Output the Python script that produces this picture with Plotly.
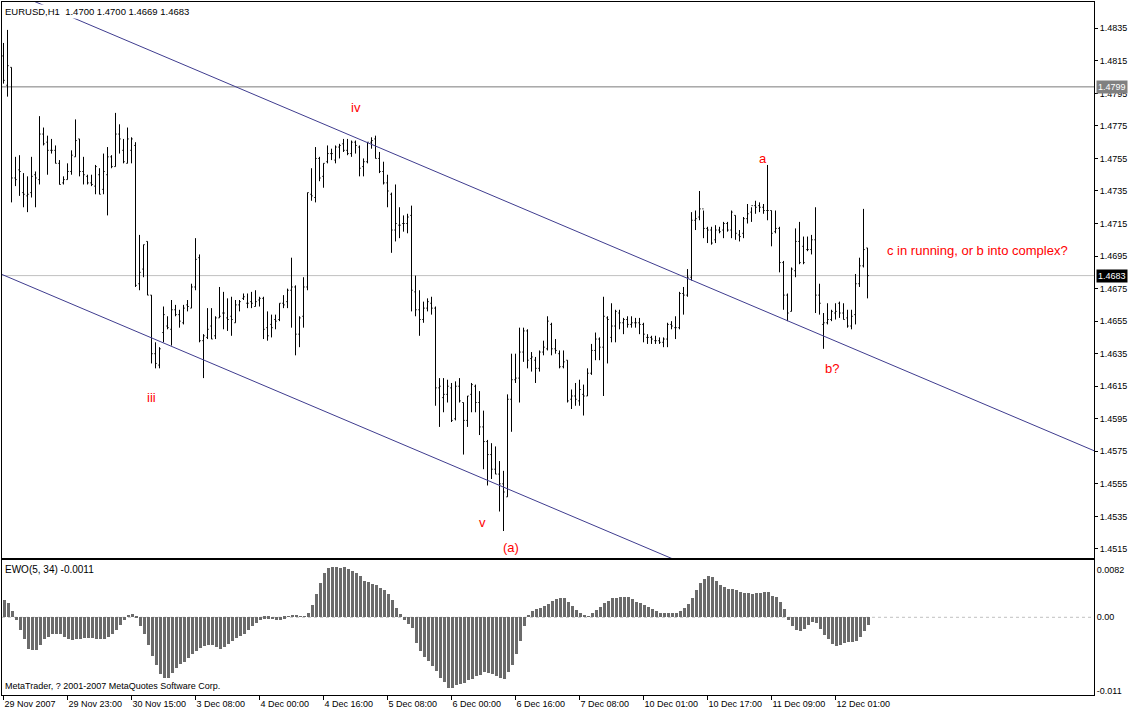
import plotly.graph_objects as go

# ---------------- data ----------------
bar_index = list(range(217))

opens = [1.4818, 1.4800, 1.4811, 1.4743, 1.4748, 1.4734, 1.4732, 1.4734, 1.4745, 1.4742,
         1.4770, 1.4765, 1.4760, 1.4760, 1.4752, 1.4740, 1.4742, 1.4747, 1.4756, 1.4767,
         1.4747, 1.4744, 1.4740, 1.4738, 1.4745, 1.4736, 1.4745, 1.4756, 1.4750, 1.4770,
         1.4760, 1.4752, 1.4760, 1.4763, 1.4678, 1.4687, 1.4704, 1.4671, 1.4635, 1.4628,
         1.4648, 1.4652, 1.4650, 1.4662, 1.4659, 1.4654, 1.4665, 1.4663, 1.4676, 1.4694,
         1.4643, 1.4645, 1.4652, 1.4646, 1.4657, 1.4660, 1.4657, 1.4658, 1.4654, 1.4665,
         1.4669, 1.4666, 1.4667, 1.4664, 1.4668, 1.4669, 1.4651, 1.4653, 1.4656, 1.4656,
         1.4666, 1.4667, 1.4674, 1.4676, 1.4647, 1.4658, 1.4676, 1.4733, 1.4731, 1.4755,
         1.4744, 1.4753, 1.4758, 1.4754, 1.4762, 1.4764, 1.4760, 1.4758, 1.4765, 1.4762,
         1.4750, 1.4753, 1.4765, 1.4767, 1.4755, 1.4747, 1.4740, 1.4733, 1.4711, 1.4714,
         1.4715, 1.4715, 1.4720, 1.4673, 1.4662, 1.4656, 1.4663, 1.4666, 1.4663, 1.4614,
         1.4608, 1.4610, 1.4614, 1.4595, 1.4615, 1.4605, 1.4594, 1.4610, 1.4615, 1.4605,
         1.4590, 1.4581, 1.4573, 1.4564, 1.4561, 1.4555, 1.4547, 1.4607, 1.4619, 1.4620,
         1.4636, 1.4649, 1.4632, 1.4631, 1.4626, 1.4636, 1.4638, 1.4653, 1.4638, 1.4635,
         1.4627, 1.4631, 1.4607, 1.4609, 1.4606, 1.4610, 1.4609, 1.4623, 1.4637, 1.4644,
         1.4639, 1.4657, 1.4645, 1.4652, 1.4660, 1.4654, 1.4656, 1.4653, 1.4654, 1.4654,
         1.4653, 1.4645, 1.4645, 1.4643, 1.4643, 1.4642, 1.4644, 1.4653, 1.4651, 1.4651,
         1.4672, 1.4671, 1.4682, 1.4717, 1.4719, 1.4724, 1.4712, 1.4711, 1.4705, 1.4711,
         1.4711, 1.4715, 1.4711, 1.4720, 1.4708, 1.4709, 1.4718, 1.4722, 1.4726, 1.4726,
         1.4725, 1.4723, 1.4723, 1.4710, 1.4712, 1.4691, 1.4671, 1.4661, 1.4686, 1.4704,
         1.4701, 1.4699, 1.4699, 1.4705, 1.4671, 1.4653, 1.4654, 1.4656, 1.4660, 1.4666,
         1.4660, 1.4657, 1.4652, 1.4659, 1.4678, 1.4689, 1.4700]

highs = [1.4826, 1.4834, 1.4811, 1.4756, 1.4757, 1.4746, 1.4744, 1.4756, 1.4747, 1.4781,
         1.4774, 1.4769, 1.4767, 1.4763, 1.4754, 1.4744, 1.4752, 1.4760, 1.4779, 1.4767,
         1.4756, 1.4745, 1.4745, 1.4751, 1.4749, 1.4758, 1.4762, 1.4757, 1.4783, 1.4776,
         1.4767, 1.4774, 1.4768, 1.4765, 1.4708, 1.4702, 1.4704, 1.4671, 1.4642, 1.4639,
         1.4664, 1.4658, 1.4668, 1.4665, 1.4662, 1.4665, 1.4668, 1.4678, 1.4706, 1.4696,
         1.4647, 1.4663, 1.4663, 1.4658, 1.4676, 1.4673, 1.4669, 1.4670, 1.4668, 1.4668,
         1.4672, 1.4672, 1.4673, 1.4674, 1.4670, 1.4670, 1.4661, 1.4659, 1.4659, 1.4666,
         1.4671, 1.4675, 1.4694, 1.4677, 1.4658, 1.4682, 1.4734, 1.4749, 1.4762, 1.4756,
         1.4752, 1.4763, 1.4761, 1.4763, 1.4764, 1.4767, 1.4767, 1.4766, 1.4766, 1.4763,
         1.4755, 1.4765, 1.4768, 1.4769, 1.4759, 1.4753, 1.4745, 1.4734, 1.4739, 1.4725,
         1.4720, 1.4721, 1.4726, 1.4683, 1.4674, 1.4667, 1.4669, 1.4670, 1.4664, 1.4620,
         1.4620, 1.4619, 1.4617, 1.4618, 1.4620, 1.4605, 1.4609, 1.4617, 1.4616, 1.4612,
         1.4600, 1.4582, 1.4580, 1.4578, 1.4569, 1.4563, 1.4610, 1.4635, 1.4635, 1.4651,
         1.4651, 1.4650, 1.4636, 1.4633, 1.4637, 1.4643, 1.4658, 1.4654, 1.4644, 1.4637,
         1.4637, 1.4631, 1.4613, 1.4617, 1.4619, 1.4616, 1.4626, 1.4641, 1.4648, 1.4645,
         1.4670, 1.4658, 1.4666, 1.4662, 1.4662, 1.4657, 1.4658, 1.4658, 1.4657, 1.4657,
         1.4654, 1.4647, 1.4646, 1.4646, 1.4645, 1.4645, 1.4654, 1.4655, 1.4658, 1.4673,
         1.4676, 1.4687, 1.4722, 1.4723, 1.4735, 1.4723, 1.4713, 1.4713, 1.4714, 1.4713,
         1.4716, 1.4716, 1.4723, 1.4720, 1.4711, 1.4719, 1.4727, 1.4725, 1.4729, 1.4728,
         1.4727, 1.4751, 1.4723, 1.4723, 1.4713, 1.4692, 1.4672, 1.4688, 1.4712, 1.4716,
         1.4707, 1.4707, 1.4708, 1.4725, 1.4678, 1.4660, 1.4666, 1.4662, 1.4666, 1.4667,
         1.4666, 1.4662, 1.4662, 1.4684, 1.4694, 1.4724, 1.4700]

lows = [1.4801, 1.4793, 1.4728, 1.4738, 1.4732, 1.4725, 1.4722, 1.4731, 1.4725, 1.4739,
        1.4763, 1.4745, 1.4758, 1.4752, 1.4739, 1.4739, 1.4742, 1.4745, 1.4756, 1.4744,
        1.4739, 1.4739, 1.4738, 1.4733, 1.4733, 1.4733, 1.4720, 1.4749, 1.4750, 1.4758,
        1.4752, 1.4752, 1.4752, 1.4676, 1.4674, 1.4682, 1.4671, 1.4629, 1.4626, 1.4626,
        1.4642, 1.4650, 1.4640, 1.4658, 1.4651, 1.4653, 1.4661, 1.4663, 1.4674, 1.4642,
        1.4620, 1.4644, 1.4644, 1.4644, 1.4657, 1.4650, 1.4649, 1.4646, 1.4654, 1.4661,
        1.4668, 1.4663, 1.4663, 1.4664, 1.4664, 1.4644, 1.4643, 1.4645, 1.4650, 1.4655,
        1.4663, 1.4663, 1.4651, 1.4634, 1.4639, 1.4651, 1.4674, 1.4729, 1.4728, 1.4741,
        1.4737, 1.4752, 1.4754, 1.4752, 1.4755, 1.4759, 1.4757, 1.4756, 1.4758, 1.4744,
        1.4744, 1.4752, 1.4761, 1.4755, 1.4746, 1.4739, 1.4725, 1.4697, 1.4704, 1.4706,
        1.4710, 1.4709, 1.4661, 1.4658, 1.4646, 1.4654, 1.4661, 1.4659, 1.4603, 1.4590,
        1.4599, 1.4605, 1.4593, 1.4594, 1.4605, 1.4573, 1.4590, 1.4599, 1.4599, 1.4585,
        1.4564, 1.4554, 1.4558, 1.4561, 1.4538, 1.4526, 1.4547, 1.4587, 1.4617, 1.4605,
        1.4630, 1.4626, 1.4624, 1.4617, 1.4624, 1.4634, 1.4637, 1.4634, 1.4635, 1.4626,
        1.4626, 1.4605, 1.4601, 1.4603, 1.4603, 1.4597, 1.4609, 1.4622, 1.4631, 1.4631,
        1.4609, 1.4629, 1.4642, 1.4642, 1.4650, 1.4647, 1.4651, 1.4651, 1.4651, 1.4647,
        1.4642, 1.4641, 1.4641, 1.4641, 1.4641, 1.4639, 1.4639, 1.4650, 1.4644, 1.4650,
        1.4659, 1.4670, 1.4680, 1.4711, 1.4717, 1.4706, 1.4703, 1.4702, 1.4703, 1.4709,
        1.4706, 1.4710, 1.4706, 1.4705, 1.4704, 1.4706, 1.4715, 1.4716, 1.4721, 1.4722,
        1.4721, 1.4717, 1.4701, 1.4709, 1.4685, 1.4662, 1.4655, 1.4661, 1.4682, 1.4690,
        1.4690, 1.4698, 1.4696, 1.4660, 1.4659, 1.4638, 1.4653, 1.4655, 1.4656, 1.4657,
        1.4656, 1.4651, 1.4650, 1.4653, 1.4676, 1.4688, 1.4669]

closes = [1.4803, 1.4812, 1.4743, 1.4742, 1.4747, 1.4733, 1.4733, 1.4744, 1.4743, 1.4770,
          1.4764, 1.4760, 1.4760, 1.4752, 1.4739, 1.4742, 1.4747, 1.4757, 1.4766, 1.4747,
          1.4745, 1.4740, 1.4739, 1.4750, 1.4733, 1.4747, 1.4756, 1.4750, 1.4770, 1.4767,
          1.4753, 1.4767, 1.4767, 1.4677, 1.4685, 1.4702, 1.4671, 1.4635, 1.4629, 1.4638,
          1.4659, 1.4651, 1.4662, 1.4659, 1.4655, 1.4663, 1.4664, 1.4676, 1.4693, 1.4643,
          1.4646, 1.4650, 1.4644, 1.4657, 1.4658, 1.4660, 1.4656, 1.4656, 1.4665, 1.4667,
          1.4670, 1.4666, 1.4666, 1.4667, 1.4669, 1.4650, 1.4646, 1.4651, 1.4655, 1.4666,
          1.4665, 1.4674, 1.4676, 1.4647, 1.4657, 1.4676, 1.4734, 1.4732, 1.4755, 1.4743,
          1.4752, 1.4758, 1.4758, 1.4762, 1.4763, 1.4760, 1.4758, 1.4765, 1.4763, 1.4749,
          1.4753, 1.4765, 1.4766, 1.4755, 1.4747, 1.4740, 1.4735, 1.4711, 1.4715, 1.4714,
          1.4715, 1.4719, 1.4674, 1.4662, 1.4656, 1.4663, 1.4667, 1.4663, 1.4614, 1.4615,
          1.4610, 1.4615, 1.4594, 1.4615, 1.4606, 1.4594, 1.4609, 1.4616, 1.4605, 1.4590,
          1.4581, 1.4573, 1.4564, 1.4561, 1.4555, 1.4550, 1.4607, 1.4619, 1.4620, 1.4636,
          1.4649, 1.4631, 1.4633, 1.4626, 1.4636, 1.4639, 1.4655, 1.4638, 1.4637, 1.4627,
          1.4630, 1.4606, 1.4609, 1.4607, 1.4613, 1.4609, 1.4623, 1.4637, 1.4644, 1.4639,
          1.4658, 1.4656, 1.4652, 1.4661, 1.4654, 1.4656, 1.4653, 1.4654, 1.4654, 1.4653,
          1.4647, 1.4645, 1.4644, 1.4643, 1.4642, 1.4644, 1.4653, 1.4652, 1.4651, 1.4672,
          1.4671, 1.4682, 1.4717, 1.4718, 1.4724, 1.4712, 1.4711, 1.4703, 1.4711, 1.4710,
          1.4715, 1.4711, 1.4722, 1.4709, 1.4707, 1.4718, 1.4721, 1.4726, 1.4725, 1.4725,
          1.4723, 1.4723, 1.4709, 1.4712, 1.4691, 1.4671, 1.4660, 1.4687, 1.4704, 1.4691,
          1.4691, 1.4699, 1.4705, 1.4671, 1.4666, 1.4654, 1.4656, 1.4661, 1.4661, 1.4660,
          1.4656, 1.4652, 1.4658, 1.4678, 1.4689, 1.4699, 1.4683]

ewo = [0.0027, 0.0023, 0.0010, -0.0006, -0.0021, -0.0037, -0.0053, -0.0055, -0.0055, -0.0047,
       -0.0037, -0.0033, -0.0029, -0.0028, -0.0029, -0.0034, -0.0037, -0.0039, -0.0037, -0.0036,
       -0.0035, -0.0035, -0.0035, -0.0036, -0.0037, -0.0036, -0.0034, -0.0028, -0.0021, -0.0014,
       -0.0006, 0.0003, 0.0005, -0.0001, -0.0015, -0.0028, -0.0046, -0.0064, -0.0079, -0.0094,
       -0.0101, -0.0101, -0.0093, -0.0084, -0.0078, -0.0074, -0.0068, -0.0062, -0.0056, -0.0051,
       -0.0048, -0.0047, -0.0047, -0.0050, -0.0054, -0.0050, -0.0045, -0.0040, -0.0035, -0.0031,
       -0.0028, -0.0021, -0.0015, -0.0010, -0.0006, -0.0003, -0.0003, -0.0004, -0.0006, -0.0005,
       -0.0003, 0.0001, 0.0003, 0.0002, 0.0001, 0.0001, 0.0007, 0.0019, 0.0037, 0.0056,
       0.0072, 0.0080, 0.0082, 0.0082, 0.0081, 0.0082, 0.0079, 0.0075, 0.0073, 0.0067,
       0.0060, 0.0057, 0.0055, 0.0052, 0.0048, 0.0045, 0.0038, 0.0027, 0.0015, 0.0004,
       -0.0005, -0.0012, -0.0018, -0.0044, -0.0056, -0.0066, -0.0073, -0.0081, -0.0090, -0.0101,
       -0.0107, -0.0117, -0.0117, -0.0113, -0.0111, -0.0109, -0.0105, -0.0102, -0.0098, -0.0096,
       -0.0091, -0.0093, -0.0094, -0.0098, -0.0101, -0.0103, -0.0092, -0.0080, -0.0061, -0.0040,
       -0.0015, 0.0002, 0.0009, 0.0013, 0.0015, 0.0018, 0.0021, 0.0026, 0.0030, 0.0031,
       0.0031, 0.0025, 0.0018, 0.0011, 0.0006, 0.0002, 0.0001, 0.0006, 0.0011, 0.0016,
       0.0023, 0.0026, 0.0031, 0.0031, 0.0033, 0.0033, 0.0033, 0.0029, 0.0025, 0.0022,
       0.0019, 0.0016, 0.0013, 0.0009, 0.0007, 0.0006, 0.0006, 0.0006, 0.0006, 0.0009,
       0.0014, 0.0021, 0.0031, 0.0044, 0.0056, 0.0062, 0.0067, 0.0066, 0.0059, 0.0052,
       0.0049, 0.0046, 0.0046, 0.0044, 0.0041, 0.0039, 0.0039, 0.0037, 0.0039, 0.0039,
       0.0041, 0.0041, 0.0035, 0.0033, 0.0025, 0.0013, -0.0005, -0.0015, -0.0022, -0.0023,
       -0.0020, -0.0013, -0.0008, -0.0010, -0.0020, -0.0030, -0.0036, -0.0045, -0.0049, -0.0047,
       -0.0044, -0.0042, -0.0041, -0.0040, -0.0033, -0.0023, -0.0013]

time_tick_bars = [0, 16, 32, 48, 64, 80, 96, 112, 128, 144, 160, 176, 192, 208]
time_tick_labels = ["29 Nov 2007", "29 Nov 23:00", "30 Nov 15:00", "3 Dec 08:00", "4 Dec 00:00",
                    "4 Dec 16:00", "5 Dec 08:00", "6 Dec 00:00", "6 Dec 16:00", "7 Dec 08:00",
                    "10 Dec 01:00", "10 Dec 17:00", "11 Dec 09:00", "12 Dec 01:00"]

price_tick_values = [1.4515, 1.4535, 1.4555, 1.4575, 1.4595, 1.4615, 1.4635, 1.4655, 1.4675,
                     1.4695, 1.4715, 1.4735, 1.4755, 1.4775, 1.4795, 1.4815, 1.4835]
price_tick_labels = ["1.4515", "1.4535", "1.4555", "1.4575", "1.4595", "1.4615", "1.4635", "1.4655",
                     "1.4675", "1.4695", "1.4715", "1.4735", "1.4755", "1.4775", "1.4795", "1.4815",
                     "1.4835"]

ewo_tick_values = [0.0078, 0.0, -0.0122]
ewo_tick_labels = ["0.0082", "0.00", "-0.011"]

level_price = 1.4799
bid_price = 1.4683

upper_channel_bars = [16, 216]
upper_channel_prices = [1.48429, 1.46344]
lower_channel_bars = [0, 200]
lower_channel_prices = [1.46833, 1.44748]

wave_texts = ["iii", "iv", "v", "(a)", "a", "b?", "c in running, or b into complex?"]
wave_bars = [37, 88, 119.75, 126.75, 189.75, 207, 220.3]
wave_prices = [1.46078, 1.47866, 1.45310, 1.45156, 1.47547, 1.46256, 1.46987]
wave_anchor = ["center", "center", "center", "center", "center", "center", "left"]

header_text = "EURUSD,H1\u00a0\u00a01.4700 1.4700 1.4669 1.4683"
ewo_text = "EWO(5, 34) -0.0011"
copyright_text = "MetaTrader, ? 2001-2007 MetaQuotes Software Corp."

# ---------------- figure ----------------
X_RANGE = [-0.375, 272.625]
FONT = "Liberation Sans, Arial, sans-serif"


def extend(bars, prices):
    slope = (prices[1] - prices[0]) / (bars[1] - bars[0])
    xs = [X_RANGE[0] - 1, X_RANGE[1] + 1]
    return xs, [prices[0] + slope * (x - bars[0]) for x in xs]


fig = go.Figure()

fig.add_trace(go.Ohlc(
    x=bar_index, open=opens, high=highs, low=lows, close=closes,
    increasing=dict(line=dict(color="black", width=1)),
    decreasing=dict(line=dict(color="black", width=1)),
    tickwidth=0.3, hoverinfo="skip", xaxis="x", yaxis="y"))

for bars, prices in ((upper_channel_bars, upper_channel_prices),
                     (lower_channel_bars, lower_channel_prices)):
    xs, ys = extend(bars, prices)
    fig.add_trace(go.Scatter(x=xs, y=ys, mode="lines",
                             line=dict(color="#3f3c8f", width=1),
                             hoverinfo="skip", xaxis="x", yaxis="y"))

fig.add_trace(go.Bar(x=bar_index, y=ewo, width=0.75, offset=-0.125,
                     marker=dict(color="#6b6b6b", line=dict(width=0)),
                     hoverinfo="skip", xaxis="x2", yaxis="y2"))

axis_common = dict(showline=True, linecolor="black", linewidth=1, mirror=True,
                   showgrid=False, zeroline=False, fixedrange=True)

fig.update_layout(
    width=1132, height=712,
    margin=dict(l=2, r=38, t=2, b=17),
    paper_bgcolor="white", plot_bgcolor="white",
    showlegend=False, bargap=0,
    font=dict(family=FONT, size=9, color="black"),
    xaxis=dict(domain=[0, 1], anchor="y", range=X_RANGE, showticklabels=False, ticks="",
               rangeslider=dict(visible=False), **axis_common),
    yaxis=dict(domain=[0.1977, 1], anchor="x", side="right", range=[1.450943, 1.485116],
               tickmode="array", tickvals=price_tick_values, ticktext=price_tick_labels,
               ticks="outside", ticklen=3, tickcolor="black", tickwidth=1,
               tickfont=dict(family=FONT, size=9, color="black"), **axis_common),
    xaxis2=dict(domain=[0, 1], anchor="y2", matches="x", range=X_RANGE,
                tickmode="array", tickvals=time_tick_bars, ticktext=time_tick_labels,
                ticks="outside", ticklen=4, tickcolor="black", tickwidth=1,
                ticklabelposition="outside right",
                tickfont=dict(family=FONT, size=9, color="black"), **axis_common),
    yaxis2=dict(domain=[0, 0.1941], anchor="x2", side="right", range=[-0.012844, 0.009389],
                tickmode="array", tickvals=ewo_tick_values, ticktext=ewo_tick_labels,
                ticks="", tickfont=dict(family=FONT, size=9, color="black"), **axis_common),
)

fig.add_shape(type="line", xref="x domain", x0=0, x1=1, yref="y", y0=level_price, y1=level_price,
              line=dict(color="#7a7a7a", width=1), layer="below")
fig.add_shape(type="line", xref="x domain", x0=0, x1=1, yref="y", y0=bid_price, y1=bid_price,
              line=dict(color="#c0c0c0", width=1), layer="below")
fig.add_shape(type="line", xref="x2 domain", x0=0, x1=1, yref="y2", y0=0, y1=0,
              line=dict(color="#c0c0c0", width=1, dash="3px,3px"), layer="below")

for txt, b, p, anc in zip(wave_texts, wave_bars, wave_prices, wave_anchor):
    fig.add_annotation(x=b, y=p, xref="x", yref="y", text=txt, showarrow=False,
                       xanchor=anc, yanchor="middle",
                       font=dict(family=FONT, size=13, color="#ff0000"))

fig.add_annotation(x=0, y=1, xref="x domain", yref="y domain", text=header_text,
                   showarrow=False, xanchor="left", yanchor="top", xshift=1, yshift=-2,
                   bgcolor="white", borderpad=1,
                   font=dict(family=FONT, size=9.5, color="black"))
fig.add_annotation(x=0, y=1, xref="x2 domain", yref="y2 domain", text=ewo_text,
                   showarrow=False, xanchor="left", yanchor="top", xshift=1, yshift=-2,
                   font=dict(family=FONT, size=10, color="black"))
fig.add_annotation(x=0, y=0, xref="x2 domain", yref="y2 domain", text=copyright_text,
                   showarrow=False, xanchor="left", yanchor="bottom", xshift=1, yshift=2,
                   font=dict(family=FONT, size=9, color="black"))

for price, bg in ((level_price, "#808080"), (bid_price, "black")):
    fig.add_annotation(x=1, y=price, xref="x domain", yref="y", text=f"{price:.4f}",
                       showarrow=False, xanchor="left", yanchor="middle", xshift=2,
                       bgcolor=bg, borderpad=1,
                       font=dict(family=FONT, size=9, color="white"))

fig.write_html("out.html", config={"displayModeBar": False},
               post_script="document.body.style.margin='0';")
